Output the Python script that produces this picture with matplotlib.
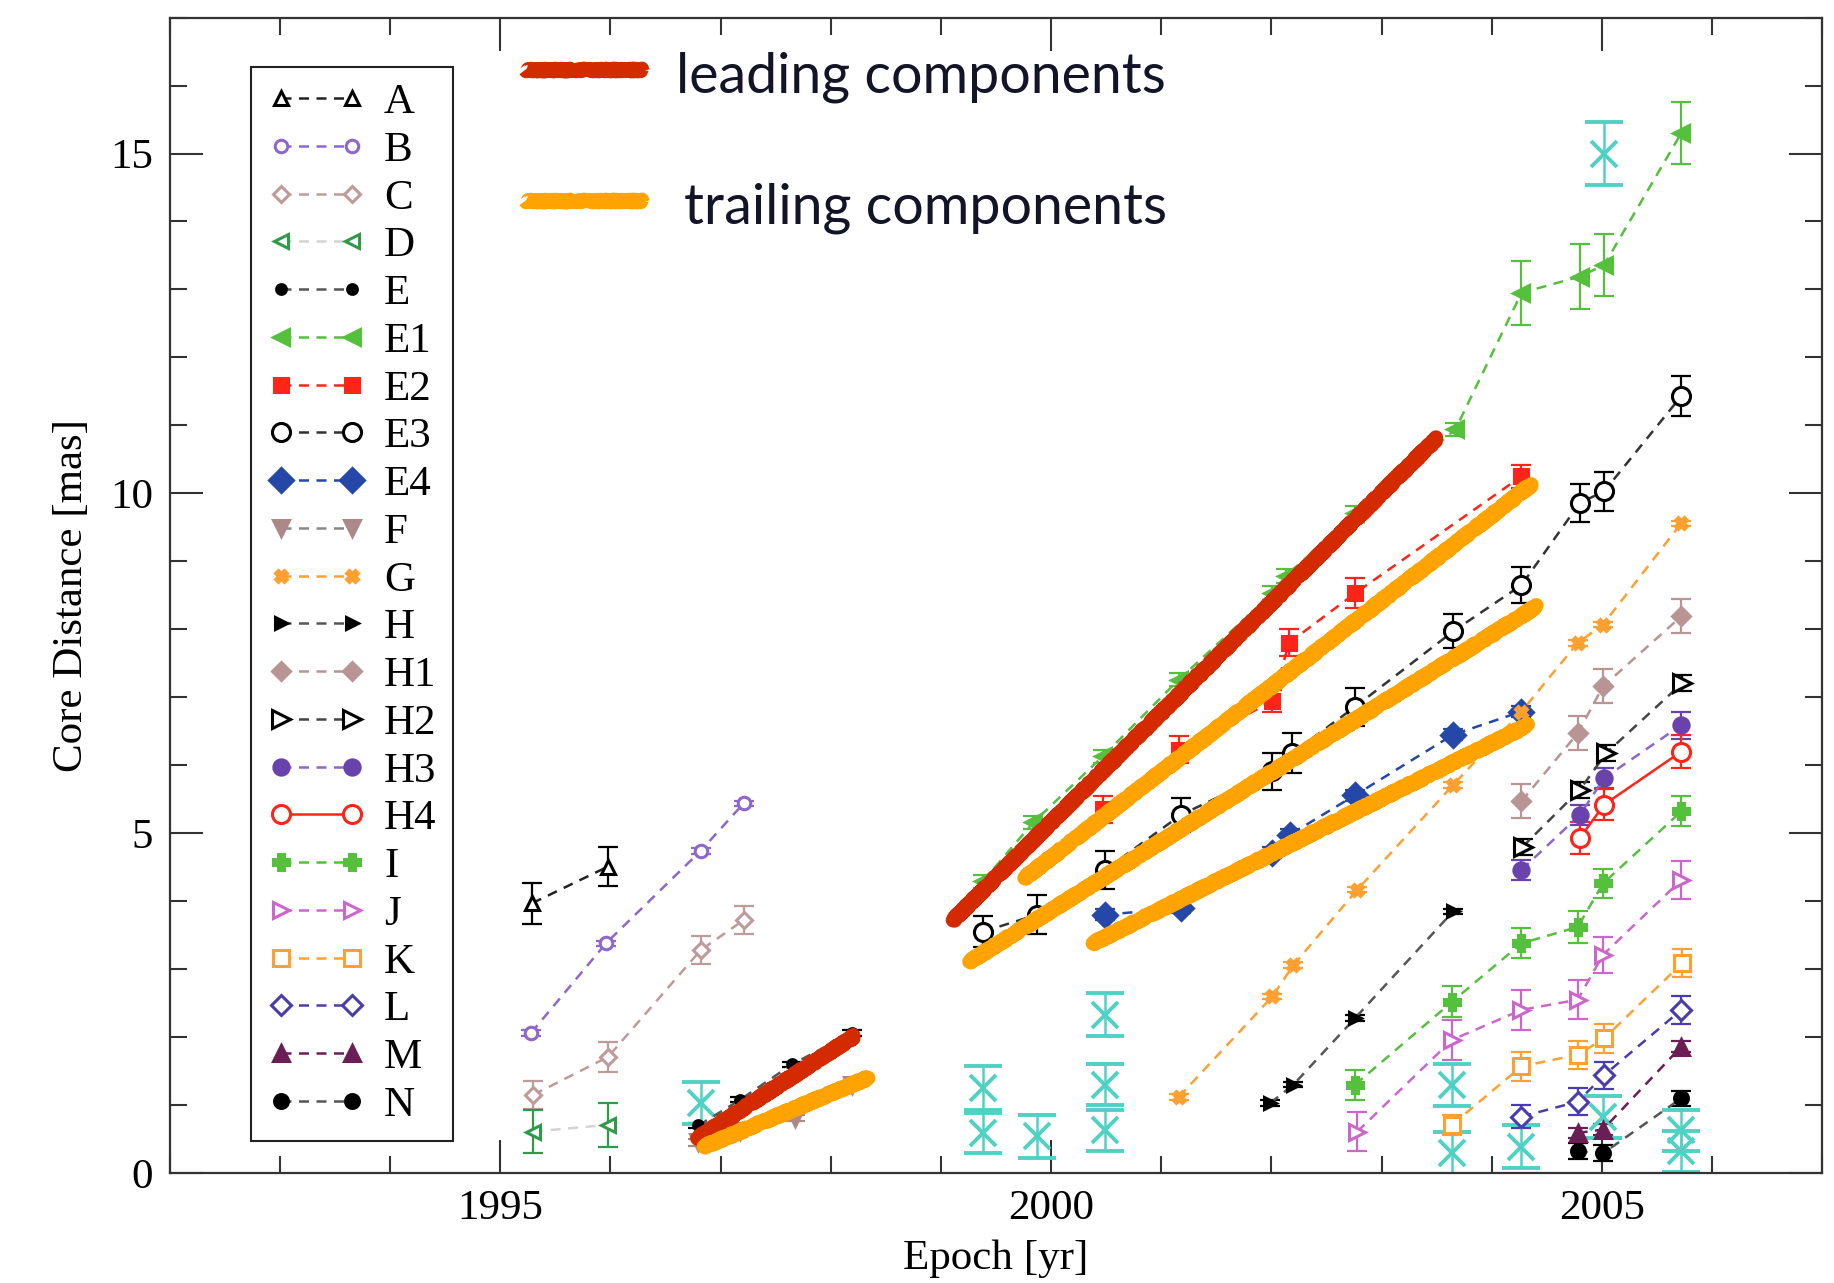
import matplotlib
matplotlib.use("Agg")
import matplotlib.pyplot as plt
from matplotlib.ticker import MultipleLocator

# ---- component tracks: epoch [yr], core distance [mas], 1-sigma error [mas]
A_x = [1995.29, 1995.98]; A_y = [3.97, 4.51]; A_e = [0.30, 0.29]
B_x = [1995.28, 1995.96, 1996.82, 1997.21]; B_y = [2.06, 3.38, 4.74, 5.44]; B_e = [0.04, 0.04, 0.04, 0.04]
C_x = [1995.30, 1995.98, 1996.82, 1997.21]; C_y = [1.15, 1.71, 3.28, 3.72]; C_e = [0.21, 0.22, 0.21, 0.21]
D_x = [1995.30, 1995.98]; D_y = [0.61, 0.71]; D_e = [0.32, 0.32]
E_x = [1996.80, 1997.18, 1997.65, 1998.19]; E_y = [0.70, 1.08, 1.60, 2.06]; E_e = [0.04, 0.04, 0.04, 0.04]
E1_x = [1999.38, 1999.84, 2000.47, 2001.16, 2002.01, 2002.13, 2002.76, 2003.67, 2004.27, 2004.80, 2005.02, 2005.72]
E1_y = [4.29, 5.16, 6.13, 7.26, 8.53, 8.78, 9.71, 10.94, 12.95, 13.19, 13.36, 15.30]
E1_e = [0.10, 0.10, 0.10, 0.10, 0.10, 0.10, 0.10, 0.10, 0.47, 0.48, 0.46, 0.46]
E2_x = [2000.47, 2001.16, 2002.01, 2002.16, 2002.76, 2004.27]
E2_y = [5.35, 6.23, 6.94, 7.80, 8.53, 10.25]
E2_e = [0.20, 0.20, 0.16, 0.20, 0.22, 0.17]
E3_x = [1999.38, 1999.87, 2000.49, 2001.18, 2002.01, 2002.19, 2002.76, 2003.65, 2004.27, 2004.80, 2005.02, 2005.72]
E3_y = [3.55, 3.80, 4.46, 5.27, 5.91, 6.18, 6.86, 7.97, 8.65, 9.86, 10.03, 11.43]
E3_e = [0.23, 0.29, 0.28, 0.25, 0.27, 0.29, 0.28, 0.25, 0.27, 0.28, 0.29, 0.29]
E4_x = [2000.49, 2001.18, 2002.01, 2002.17, 2002.76, 2003.65, 2004.27]
E4_y = [3.80, 3.90, 4.71, 4.98, 5.56, 6.45, 6.79]
E4_e = [0.08, 0.08, 0.08, 0.08, 0.08, 0.08, 0.08]
F_x = [1996.80, 1997.18, 1997.68, 1998.19]; F_y = [0.45, 0.62, 0.81, 1.30]; F_e = [0.05, 0.05, 0.05, 0.05]
G_x = [2001.16, 2002.01, 2002.20, 2002.78, 2003.65, 2004.27, 2004.78, 2005.01, 2005.72]
G_y = [1.12, 2.60, 3.06, 4.17, 5.71, 6.79, 7.80, 8.07, 9.56]
G_e = [0.04] * 9
H_x = [2001.99, 2002.20, 2002.76, 2003.65]; H_y = [1.03, 1.30, 2.28, 3.85]; H_e = [0.04] * 4
H1_x = [2004.27, 2004.78, 2005.01, 2005.72]; H1_y = [5.47, 6.47, 7.16, 8.19]; H1_e = [0.25] * 4
H2_x = [2004.28, 2004.80, 2005.04, 2005.73]; H2_y = [4.80, 5.64, 6.18, 7.21]; H2_e = [0.12] * 4
H3_x = [2004.27, 2004.80, 2005.02, 2005.72]; H3_y = [4.46, 5.27, 5.81, 6.59]; H3_e = [0.15, 0.15, 0.15, 0.20]
H4_x = [2004.80, 2005.02, 2005.72]; H4_y = [4.93, 5.42, 6.20]; H4_e = [0.23, 0.23, 0.24]
I_x = [2002.76, 2003.64, 2004.27, 2004.78, 2005.01, 2005.72]
I_y = [1.30, 2.52, 3.38, 3.62, 4.26, 5.32]
I_e = [0.22, 0.23, 0.22, 0.23, 0.22, 0.22]
J_x = [2002.78, 2003.64, 2004.27, 2004.78, 2005.01, 2005.72]
J_y = [0.61, 1.96, 2.40, 2.55, 3.21, 4.31]
J_e = [0.29, 0.29, 0.29, 0.29, 0.27, 0.28]
K_x = [2003.64, 2004.27, 2004.78, 2005.02, 2005.73]; K_y = [0.71, 1.57, 1.74, 1.98, 3.09]
K_e = [0.15, 0.21, 0.21, 0.21, 0.21]
L_x = [2004.27, 2004.78, 2005.02, 2005.72]; L_y = [0.83, 1.05, 1.44, 2.40]; L_e = [0.17, 0.20, 0.20, 0.20]
M_x = [2004.78, 2005.01, 2005.72]; M_y = [0.59, 0.64, 1.86]; M_e = [0.08, 0.08, 0.08]
N_x = [2004.78, 2005.01, 2005.72]; N_y = [0.32, 0.29, 1.10]; N_e = [0.12, 0.12, 0.11]

# unidentified features (cyan crosses, not in the legend)
X_x = [1996.82, 1999.38, 1999.38, 1999.87, 2000.49, 2000.49, 2000.49,
       2003.64, 2003.64, 2004.27, 2005.01, 2005.72, 2005.72, 2005.02]
X_y = [1.03, 1.25, 0.59, 0.54, 2.33, 1.30, 0.63, 1.30, 0.29, 0.39, 0.83, 0.63, 0.32, 15.0]
X_e = [0.31, 0.32, 0.30, 0.32, 0.32, 0.30, 0.30, 0.31, 0.32, 0.31, 0.31, 0.30, 0.30, 0.47]

# linear fits of leading / trailing components (start, end)
lead_x = [[1996.79, 1998.21], [1999.11, 2003.50]]
lead_y = [[0.51, 2.01], [3.72, 10.81]]
trail_x = [[1996.85, 1998.34], [1999.76, 2004.36], [1999.26, 2004.41], [2000.38, 2004.33]]
trail_y = [[0.39, 1.40], [4.34, 10.13], [3.11, 8.34], [3.38, 6.59]]

labels = ["A", "B", "C", "D", "E", "E1", "E2", "E3", "E4", "F", "G", "H",
          "H1", "H2", "H3", "H4", "I", "J", "K", "L", "M", "N"]
xs = [A_x, B_x, C_x, D_x, E_x, E1_x, E2_x, E3_x, E4_x, F_x, G_x, H_x,
      H1_x, H2_x, H3_x, H4_x, I_x, J_x, K_x, L_x, M_x, N_x]
ys = [A_y, B_y, C_y, D_y, E_y, E1_y, E2_y, E3_y, E4_y, F_y, G_y, H_y,
      H1_y, H2_y, H3_y, H4_y, I_y, J_y, K_y, L_y, M_y, N_y]
es = [A_e, B_e, C_e, D_e, E_e, E1_e, E2_e, E3_e, E4_e, F_e, G_e, H_e,
      H1_e, H2_e, H3_e, H4_e, I_e, J_e, K_e, L_e, M_e, N_e]

# symbol style per component: marker, colour, size, filled, line colour, line style
styles = {
    "A":  ("^", "#000000", 10, False, "#222222", "--"),
    "B":  ("o", "#8e66cc", 9,  False, "#8e66cc", "--"),
    "C":  ("D", "#bf9a9a", 8,  False, "#bf9a9a", "--"),
    "D":  ("<", "#2f9a4a", 10, False, "#d4d4d4", "--"),
    "E":  ("o", "#000000", 7,  True,  "#555555", "--"),
    "E1": ("<", "#55c03c", 11, True,  "#55c03c", "--"),
    "E2": ("s", "#ff2418", 10, True,  "#ff2418", "--"),
    "E3": ("o", "#000000", 13, False, "#333333", "--"),
    "E4": ("D", "#2447a8", 12, True,  "#2447a8", "--"),
    "F":  ("v", "#ad8888", 11, True,  "#888888", "--"),
    "G":  ("X", "#ffa030", 9,  True,  "#ffa030", "--"),
    "H":  (">", "#000000", 8,  True,  "#555555", "--"),
    "H1": ("D", "#b89494", 9,  True,  "#b89494", "--"),
    "H2": (">", "#000000", 13, False, "#444444", "--"),
    "H3": ("o", "#6a42ac", 11, True,  "#8e66cc", "--"),
    "H4": ("o", "#ff2418", 13, False, "#ff2418", "-"),
    "I":  ("P", "#55c03c", 11, True,  "#55c03c", "--"),
    "J":  (">", "#cc66cc", 11, False, "#cc66cc", "--"),
    "K":  ("s", "#ffa030", 11, False, "#ffa030", "--"),
    "L":  ("D", "#4a3cae", 10, False, "#4a3cae", "--"),
    "M":  ("^", "#6a1e55", 12, True,  "#6a1e55", "--"),
    "N":  ("o", "#000000", 10, True,  "#555555", "--"),
}

plt.rcParams["font.family"] = ["Liberation Serif", "DejaVu Serif"]

fig = plt.figure(figsize=(18.34, 12.83), dpi=100)
ax = fig.add_axes([0.0925, 0.0857, 0.9011, 0.9006])

dash = (0, (4, 3))
for lab, x, y, e in zip(labels, xs, ys, es):
    mk, col, ms, filled, lcol, ls = styles[lab]
    ax.errorbar(x, y, yerr=e, fmt="none", ecolor=col, elinewidth=1.6,
                capsize=7, capthick=1.6, zorder=2)
    ax.plot(x, y, linestyle=dash if ls == "--" else "-", color=lcol, lw=1.8,
            marker=mk, markersize=ms, markerfacecolor=col if filled else "white",
            markeredgecolor=col, markeredgewidth=2.2, label=lab, zorder=3)

ax.errorbar(X_x, X_y, yerr=X_e, fmt="x", color="#4fd2c4", markersize=19,
            markeredgewidth=2.8, elinewidth=1.8, capsize=14, capthick=2.2, zorder=2.5)

for x, y in zip(lead_x, lead_y):
    ln, = ax.plot(x, y, color="#d42a00", lw=10.5, solid_capstyle="round", zorder=5)
    ln.set_sketch_params(scale=1.5, length=3, randomness=2)
for x, y in zip(trail_x, trail_y):
    ln, = ax.plot(x, y, color="#ffa300", lw=10.5, solid_capstyle="round", zorder=5)
    ln.set_sketch_params(scale=1.5, length=3, randomness=2)

# key for the fit lines
for yk, col, txt, tx in [(0.9545, "#d42a00", "leading components", 0.3064),
                         (0.8411, "#ffa300", "trailing components", 0.3114)]:
    ln, = ax.plot([0.2151, 0.2866], [yk, yk], transform=ax.transAxes, color=col,
                  lw=10, solid_capstyle="butt", zorder=5)
    ln.set_sketch_params(scale=1.5, length=3, randomness=2)
    ax.text(tx, yk - 0.006, txt, transform=ax.transAxes, fontsize=40,
            family=["Lato", "DejaVu Sans"], color="#141428", va="center", ha="left")

ax.set_xlim(1992, 2007)
ax.set_ylim(0, 17)
ax.xaxis.set_major_locator(MultipleLocator(5))
ax.xaxis.set_minor_locator(MultipleLocator(1))
ax.yaxis.set_major_locator(MultipleLocator(5))
ax.yaxis.set_minor_locator(MultipleLocator(1))
ax.tick_params(which="both", direction="in", top=True, right=True,
               width=1.5, color="#333333", labelsize=31)
ax.tick_params(which="major", length=24, pad=12)
ax.tick_params(which="minor", length=12)
for sp in ax.spines.values():
    sp.set_linewidth(1.6)
    sp.set_color("#333333")

ax.set_xlabel("Epoch [yr]", fontsize=31, labelpad=8)
ax.set_ylabel("Core Distance [mas]", fontsize=31, labelpad=14)

leg = ax.legend(loc="upper left", bbox_to_anchor=(0.0495, 0.9575), borderaxespad=0,
                numpoints=2, fontsize=31, handlelength=2.25, handletextpad=0.45,
                labelspacing=0.2, borderpad=0.38, fancybox=False, framealpha=1,
                edgecolor="#222222")
leg.get_frame().set_linewidth(1.5)

fig.savefig("out.png", dpi=100)
